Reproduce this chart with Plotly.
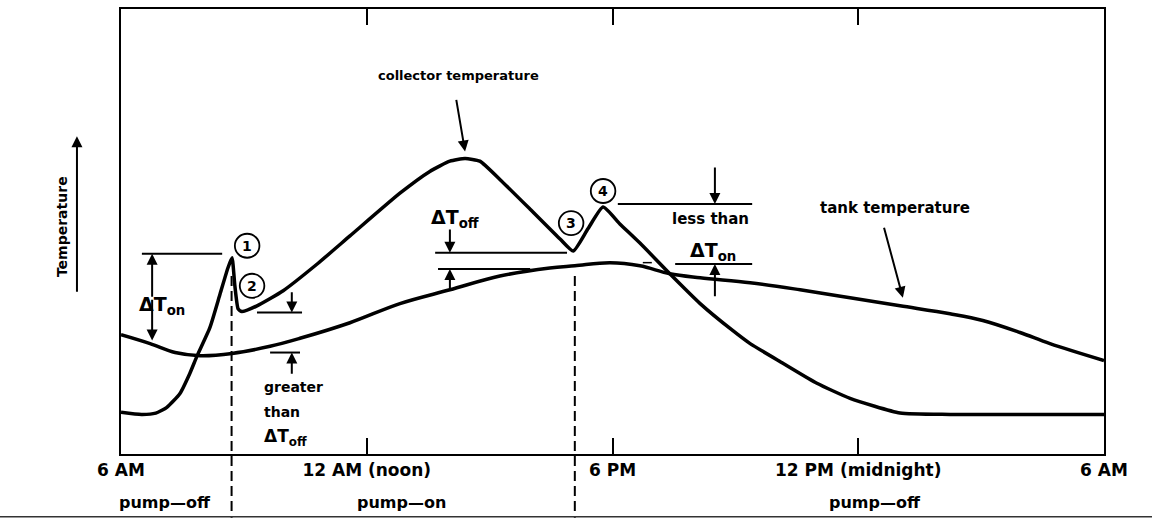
import plotly.graph_objects as go

# Daily temperature traces of a solar collector loop (hours from 6 AM, arbitrary temperature units)
collector_hour = [6.00, 6.50, 6.85, 7.12, 7.44, 7.68, 7.86, 8.17, 8.42, 8.61, 8.71, 8.78, 8.86, 8.95,
                  9.32, 9.96, 10.79, 11.59, 12.81, 13.54, 14.03, 14.40, 14.76, 15.25, 15.99, 16.72,
                  17.04, 17.40, 17.77, 18.18, 18.67, 19.40, 20.14, 20.94, 21.36, 22.16, 22.99, 23.80,
                  25.02, 26.24, 30.00]
collector_temp = [9.4, 8.9, 9.2, 10.5, 13.6, 18.1, 22.1, 28.4, 36.0, 41.8, 44.1, 37.8, 32.6, 32.0,
                  33.3, 36.7, 42.7, 49.0, 58.6, 63.5, 65.8, 66.4, 65.8, 61.7, 55.0, 48.3,
                  45.6, 50.6, 55.5, 51.7, 47.4, 40.5, 33.8, 27.7, 24.8, 20.4, 15.9, 12.5,
                  9.2, 8.9, 8.9]

tank_hour = [6.00, 6.71, 7.32, 7.93, 8.71, 9.64, 10.37, 11.59, 12.81, 14.03, 15.25, 16.47, 17.08,
             17.94, 18.67, 19.40, 20.14, 21.36, 22.58, 23.80, 25.02, 26.24, 27.04, 27.95, 28.68, 30.00]
tank_temp = [26.8, 24.8, 22.8, 22.1, 22.6, 24.2, 26.0, 29.5, 33.8, 36.9, 40.0, 41.8, 42.3,
             43.0, 42.3, 40.5, 39.6, 38.5, 36.9, 35.1, 33.3, 31.5, 30.0, 27.3, 24.8, 21.0]

tick_hours = [6, 12, 18, 24, 30]
tick_labels = ["6 AM", "12 AM (noon)", "6 PM", "12 PM (midnight)", "6 AM"]

pump_on_hour = 8.70
pump_off_hour = 17.08
pump_states = ["pump\u2014off", "pump\u2014on", "pump\u2014off"]
pump_label_hours = [7.07, 12.86, 24.41]

# numbered switching events: (label, hour, temperature of the circle centre)
event_labels = ["1", "2", "3", "4"]
event_hours = [9.08, 9.20, 16.99, 17.77]
event_temps = [46.8, 37.8, 51.9, 59.1]

X0, X1 = 6, 30
Y0, Y1 = 0, 100
FONT = "DejaVu Sans"
LW = 2


def px(h):
    return (h - X0) / (X1 - X0)


fig = go.Figure()
fig.add_trace(go.Scatter(x=tank_hour, y=tank_temp, mode="lines",
                         line=dict(color="black", width=3.5, shape="spline", smoothing=1.0),
                         name="tank temperature", hoverinfo="skip"))
fig.add_trace(go.Scatter(x=collector_hour, y=collector_temp, mode="lines",
                         line=dict(color="black", width=3.5, shape="spline", smoothing=0.5),
                         name="collector temperature", hoverinfo="skip"))

shapes = []
annotations = []


def hline(h0, h1, t, width=LW):
    shapes.append(dict(type="line", xref="x", yref="y", x0=h0, x1=h1, y0=t, y1=t,
                       line=dict(color="black", width=width)))


def arrow(h, t_tail, t_head, h_tail=None, w=LW):
    annotations.append(dict(x=h, y=t_head, ax=h if h_tail is None else h_tail, ay=t_tail,
                            xref="x", yref="y", axref="x", ayref="y", text="", showarrow=True,
                            arrowhead=2, arrowsize=1.1, arrowwidth=w, arrowcolor="black"))


def label(text, h, t, size, xanchor="center"):
    annotations.append(dict(x=h, y=t, xref="x", yref="y", text=text, showarrow=False,
                            xanchor=xanchor, yanchor="middle",
                            font=dict(family=FONT, size=size, color="black")))


# pump switching instants, dashed down through the time labels
for h in (pump_on_hour, pump_off_hour):
    shapes.append(dict(type="line", xref="paper", yref="paper", x0=px(h), x1=px(h),
                       y0=0.40, y1=-0.143,
                       line=dict(color="black", width=2, dash="10px,5px")))

# baseline rule under the pump states
shapes.append(dict(type="line", xref="paper", yref="paper", x0=-0.124, x1=1.05,
                   y0=-0.141, y1=-0.141, line=dict(color="#333333", width=1.5)))

# event circles
for lab, h, t in zip(event_labels, event_hours, event_temps):
    shapes.append(dict(type="circle", xref="x", yref="y", x0=h - 0.30, x1=h + 0.30,
                       y0=t - 2.7, y1=t + 2.7, line=dict(color="black", width=1.8)))
    label("<b>%s</b>" % lab, h, t, 14)

# turn-on difference before the pump starts
hline(6.51, 8.47, 45.0)
arrow(6.76, 35.0, 45.0)
arrow(6.76, 35.0, 25.5)
label("<b>\u0394T<sub>on</sub></b>", 7.0, 33.3, 19)

# difference right after pump start
hline(9.32, 10.42, 31.8)
arrow(10.17, 36.7, 31.8)
hline(9.64, 10.37, 22.8)
arrow(10.17, 17.7, 22.8)
label("<b>greater</b>", 9.44, 15.0, 14, "left")
label("<b>than</b>", 9.44, 9.4, 14, "left")
label("<b>\u0394T<sub>off</sub></b>", 9.44, 3.6, 17, "left")

# turn-off difference in the afternoon
hline(13.67, 16.89, 45.2)
arrow(14.03, 50.8, 45.2)
hline(13.74, 15.99, 41.6)
arrow(14.03, 36.7, 41.6)
label("<b>\u0394T<sub>off</sub></b>", 14.15, 53.0, 19)

# after the pump stops
hline(18.13, 21.41, 56.2)
arrow(20.50, 64.7, 56.2)
label("<b>less than</b>", 20.40, 52.8, 15)
hline(19.53, 21.41, 42.7)
arrow(20.50, 35.1, 42.7)
label("<b>\u0394T<sub>on</sub></b>", 20.45, 45.6, 19)
hline(18.74, 18.96, 43.0, 1.5)

# curve names
label("<b>collector temperature</b>", 14.25, 85.0, 13)
arrow(14.40, 79.9, 68.0, h_tail=14.18)
label("<b>tank temperature</b>", 24.90, 55.3, 15)
arrow(25.09, 51.2, 35.1, h_tail=24.62)

# vertical axis name with its arrow
annotations.append(dict(x=-0.060, y=0.51, xref="paper", yref="paper", text="<b>Temperature</b>",
                        textangle=-90, showarrow=False, xanchor="center", yanchor="middle",
                        font=dict(family=FONT, size=14, color="black")))
annotations.append(dict(x=-0.0448, y=0.714, xref="paper", yref="paper", ax=0, ay=157,
                        text="", showarrow=True, arrowhead=2, arrowsize=1.1, arrowwidth=2,
                        arrowcolor="black"))

# pump state captions
for s, h in zip(pump_states, pump_label_hours):
    annotations.append(dict(x=h, y=-0.11, xref="x", yref="paper", text="<b>%s</b>" % s,
                            showarrow=False, xanchor="center", yanchor="middle",
                            font=dict(family=FONT, size=16, color="black")))

fig.update_layout(
    width=1152, height=518,
    margin=dict(l=121, r=48, t=7, b=64),
    paper_bgcolor="white", plot_bgcolor="white",
    showlegend=False,
    font=dict(family=FONT, color="black"),
    shapes=shapes, annotations=annotations,
    xaxis=dict(range=[X0, X1], tickvals=tick_hours,
               ticktext=["<b>%s</b>" % t for t in tick_labels],
               tickfont=dict(family=FONT, size=17, color="black"),
               ticks="inside", ticklen=16, tickwidth=2, tickcolor="black",
               showline=True, linecolor="black", linewidth=2, mirror="ticks",
               showgrid=False, zeroline=False, fixedrange=True),
    yaxis=dict(range=[Y0, Y1], showticklabels=False, ticks="",
               showline=True, linecolor="black", linewidth=2, mirror=True,
               showgrid=False, zeroline=False, fixedrange=True),
)

fig.write_html("out.html")
